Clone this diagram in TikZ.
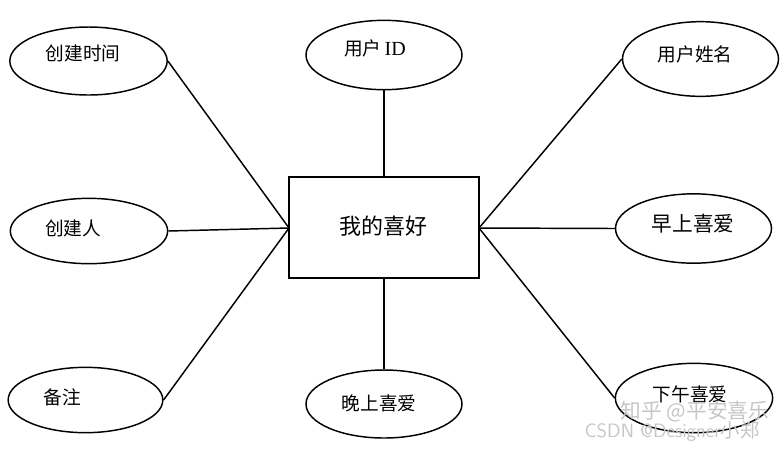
\documentclass[tikz,border=0pt]{standalone}
\usepackage{fontspec}
\setmainfont{Liberation Serif}
\newfontfamily\cjk{Noto Sans CJK SC}
\usetikzlibrary{shapes.geometric}
\begin{document}
\begin{tikzpicture}[x=0.75pt,y=-0.75pt,
  attr/.style={ellipse,draw,line width=1.1pt,inner sep=0pt},
  ent/.style={rectangle,draw,line width=1.5pt,inner sep=0pt,minimum width=142.5pt,minimum height=75.75pt},
  lbl/.style={inner sep=0pt,font=\cjk\fontsize{14pt}{16pt}\selectfont},
  conn/.style={line width=1.1pt},
  wm/.style={inner sep=0pt,text=gray!45}]
\useasboundingbox[fill=white] (0,0) rectangle (784,451);
% entity
\node[ent] (e) at (384,227.5) {};
\node[lbl,font=\cjk\fontsize{16.5pt}{18pt}\selectfont] (et) at (383,226) {我的喜好};
% attributes
\node[attr,minimum width=117pt,minimum height=52pt] (id) at (384,55) {};
\node[lbl] (idt) at (375,48) {用户\,{\rmfamily\fontsize{15pt}{17pt}\selectfont ID}};
\node[attr,minimum width=118pt,minimum height=51pt] (ct) at (88.5,61) {};
\node[lbl] (ctt) at (83,53) {创建时间};
\node[attr,minimum width=118pt,minimum height=49pt] (cr) at (89,231) {};
\node[lbl] (crt) at (73,228) {创建人};
\node[attr,minimum width=116pt,minimum height=49pt] (bz) at (85.5,400) {};
\node[lbl] (bzt) at (62,397) {备注};
\node[attr,minimum width=117pt,minimum height=51pt] (ws) at (384,404) {};
\node[lbl] (wst) at (379,403) {晚上喜爱};
\node[attr,minimum width=117pt,minimum height=56pt] (xm) at (700.5,59) {};
\node[lbl] (xmt) at (695,54) {用户姓名};
\node[attr,minimum width=117pt,minimum height=52pt] (zs) at (693.5,228.5) {};
\node[lbl,font=\cjk\fontsize{15.5pt}{17pt}\selectfont] (zst) at (693,224) {早上喜爱};
\node[attr,minimum width=118pt,minimum height=52pt] (xw) at (694,398) {};
\node[lbl] (xwt) at (690,394) {下午喜爱};
% coordinates on the entity
\coordinate (eL) at (289,228);
\coordinate (eR) at (479,228);
% connectors
\draw[conn] (id) -- (e.north);
\draw[conn] (ws) -- (e.south);
\draw[conn] (ct.east) -- (eL);
\draw[conn] (cr.east) -- (eL);
\draw[conn] (bz.east) -- (eL);
\draw[conn] (xm.west) -- (eR);
\draw[conn] (zs.west) -- (eR);
\draw[conn] (xw.west) -- (eR);
% watermarks
\node[wm,font=\cjk\fontsize{15.5pt}{17pt}\selectfont] (w1) at (695,412) {知乎 @平安喜乐};
\node[wm,font=\sffamily\fontsize{14.5pt}{17pt}\selectfont] (w2) at (672,431) {CSDN @Designer{\cjk 小郑}};
\end{tikzpicture}
\end{document}
